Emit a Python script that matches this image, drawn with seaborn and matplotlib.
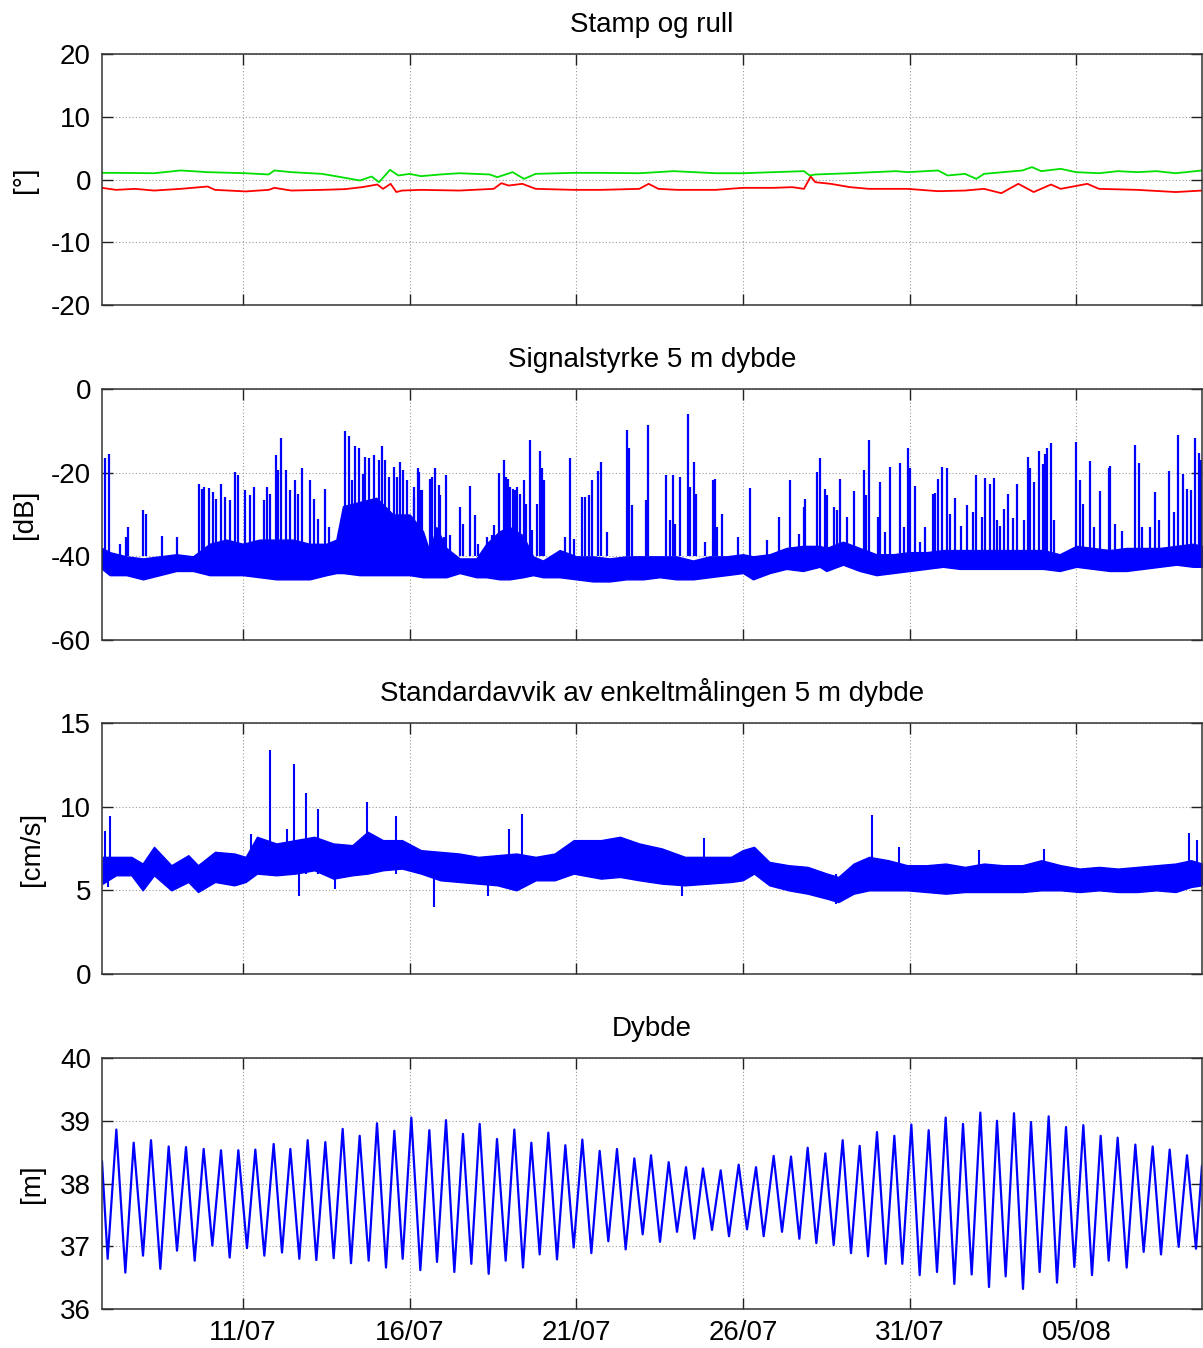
import numpy as np
import pandas as pd
import matplotlib
matplotlib.use("Agg")
import matplotlib.pyplot as plt
import seaborn as sns

# ---------------- data (time in days since 01/07 00:00) ----------------
START = pd.Timestamp("2011-07-01")
x_start, x_end = 5.77, 38.77
tick_days = [10, 15, 20, 25, 30, 35]
tick_labels = ["11/07", "16/07", "21/07", "26/07", "31/07", "05/08"]

# Panel 1: pitch (green) and roll (red), degrees
pitch_day = [5.77, 6.19, 7.33, 8.13, 8.94, 10.08, 10.77, 10.94, 11.45, 12.37,
             12.83, 13.51, 13.86, 14.08, 14.41, 14.66, 15.00, 15.34, 15.92, 16.49,
             17.40, 17.63, 18.09, 18.43, 18.78, 19.92, 20.74, 21.89, 22.92, 24.18,
             25.00, 25.91, 26.83, 27.00, 27.17, 28.21, 29.59, 29.93, 30.85, 31.14,
             31.66, 32.00, 32.23, 33.38, 33.67, 33.95, 34.53, 34.99, 35.68, 36.25,
             36.83, 37.40, 37.98, 38.77]
pitch_deg = [1.06, 1.06, 1.0, 1.44, 1.17, 1.0, 0.8, 1.44, 1.17, 0.9,
             0.48, -0.16, 0.48, -0.43, 1.54, 0.64, 0.9, 0.53, 0.8, 1.0,
             0.8, 0.37, 1.17, 0.1, 0.9, 1.06, 1.06, 1.0, 1.33, 1.0,
             1.0, 1.17, 1.33, 0.64, 0.8, 1.0, 1.33, 1.17, 1.44, 0.64,
             0.9, 0.1, 0.9, 1.44, 1.97, 1.33, 1.7, 1.17, 1.0, 1.33,
             1.17, 1.33, 1.0, 1.44]
roll_day = [5.77, 6.19, 6.76, 7.33, 8.13, 8.94, 9.16, 10.08, 10.77, 10.94,
            11.45, 12.37, 13.05, 13.57, 14.03, 14.20, 14.43, 14.60, 14.77, 15.34,
            16.49, 17.52, 17.75, 17.97, 18.38, 18.78, 19.92, 20.74, 21.89, 22.17,
            22.46, 23.03, 24.18, 25.00, 25.91, 26.48, 26.83, 27.03, 27.17, 27.63,
            28.21, 28.78, 29.93, 30.85, 31.66, 32.23, 32.75, 33.26, 33.72, 34.24,
            34.53, 35.33, 35.68, 36.83, 37.98, 38.77]
roll_deg = [-1.33, -1.65, -1.49, -1.76, -1.49, -1.12, -1.65, -1.9, -1.65, -1.33,
            -1.76, -1.65, -1.54, -1.22, -0.8, -1.49, -0.69, -2.0, -1.76, -1.65,
            -1.76, -1.49, -0.59, -0.96, -0.69, -1.49, -1.65, -1.65, -1.49, -0.69,
            -1.49, -1.65, -1.65, -1.33, -1.33, -1.22, -1.49, 0.48, -0.43, -0.69,
            -1.22, -1.49, -1.49, -1.86, -1.76, -1.49, -2.18, -0.69, -2.0, -0.8,
            -1.49, -0.69, -1.49, -1.65, -2.0, -1.76]

# Panel 2: signal strength, band of the noise (low/high) and spikes (dB)
sig_day = [5.77, 6.0, 6.5, 7.0, 7.5, 8.0, 8.5, 9.0, 9.5, 10.0, 10.5, 11.0, 11.5, 12.0,
           12.5, 12.8, 13.0, 13.5, 14.0, 14.5, 15.0, 15.4, 15.6, 15.8, 16.1, 16.5,
           17.0, 17.3, 17.7, 18.0, 18.4, 18.7, 19.0, 19.5, 20.0, 20.5, 21.0, 21.5,
           22.0, 22.5, 23.0, 23.5, 24.0, 24.5, 25.0, 25.3, 25.8, 26.3, 26.8, 27.3,
           27.5, 28.0, 28.5, 29.0, 29.5, 30.0, 30.5, 31.0, 31.5, 32.0, 32.5, 33.0,
           33.5, 34.0, 34.5, 35.0, 35.5, 36.0, 36.5, 37.0, 37.5, 38.0, 38.5, 38.77]
sig_low = [-43, -44.5, -44.5, -45.5, -44.5, -43.5, -43.5, -44.5, -44.5, -44.5, -45, -45.5,
           -45.5, -45.5, -44.5, -44, -44, -44.5, -44.5, -44.5, -44.5, -45, -45, -45, -45,
           -44, -45, -45, -45.5, -45.5, -45, -44.5, -45, -45, -45.5, -46, -46, -45.5,
           -45.5, -45, -45.5, -45.5, -45, -44.5, -44, -45.5, -44, -43, -43.5, -42.5,
           -43.5, -42, -43.5, -44.5, -44, -43.5, -43, -42.5, -43, -43, -43, -43,
           -43, -43, -43.5, -42.5, -43, -43.5, -43.5, -43, -42.5, -42, -42.5, -42.5]
sig_high = [-38, -39, -40, -40.5, -40, -39.5, -40, -37, -36, -37, -36, -36,
            -36, -37, -37, -36, -28, -27, -26, -30, -30, -34, -39, -33, -38,
            -40.5, -40.5, -37, -34, -33, -35, -40, -41, -38.5, -40, -40, -40.5, -40,
            -40, -40, -40, -41, -40, -40, -39.5, -40, -39.5, -38, -37.5, -37.5,
            -38, -36.5, -38, -39.5, -39.5, -39, -39, -38.5, -38.5, -38.5, -38.5, -38.5,
            -38.5, -38.5, -39.5, -37.5, -38, -38.5, -38, -38, -38, -37.5, -37, -37.5]
spike_day = [5.85, 5.97, 6.32, 6.50, 6.54, 7.00, 7.10, 7.57, 8.02, 8.67, 8.77, 8.84,
             8.97, 9.10, 9.20, 9.34, 9.47, 9.62, 9.75, 9.85, 10.07, 10.20, 10.32, 10.62,
             10.72, 10.80, 10.98, 11.04, 11.14, 11.30, 11.42, 11.57, 11.65, 11.77, 12.02,
             12.12, 12.24, 12.47, 12.57, 13.07, 13.17, 13.27, 13.37, 13.47, 13.60, 13.67,
             13.77, 13.92, 14.07, 14.17, 14.27, 14.37, 14.52, 14.62, 14.72, 14.80, 14.92,
             15.04, 15.14, 15.27, 15.37, 15.12, 15.25, 15.32, 15.60, 15.67, 15.75, 15.87,
             15.92, 16.02, 16.10, 16.22, 16.50, 16.60, 16.80, 16.97, 17.04, 17.32, 17.47,
             17.54, 17.69, 17.82, 17.90, 17.95, 18.02, 18.09, 18.17, 18.22, 18.32, 18.42,
             18.50, 18.60, 18.67, 18.82, 18.90, 18.97, 19.04, 19.67, 19.82, 19.92, 20.17,
             20.27, 20.37, 20.47, 20.65, 20.74, 20.92, 21.52, 21.58, 21.67, 22.09, 22.14,
             22.69, 22.80, 22.89, 22.95, 23.10, 23.36, 23.42, 23.53, 23.60, 23.87, 24.10,
             24.15, 24.22, 24.37, 24.84, 25.20, 25.72, 26.07, 26.42, 26.67, 26.82, 26.87,
             27.22, 27.30, 27.45, 27.52, 27.72, 27.82, 27.92, 28.12, 28.34, 28.62, 28.69,
             28.77, 29.04, 29.12, 29.27, 29.40, 29.72, 29.82, 29.94, 30.02, 30.17, 30.32,
             30.47, 30.69, 30.77, 30.84, 30.97, 31.12, 31.22, 31.37, 31.55, 31.72, 31.90,
             32.00, 32.17, 32.27, 32.42, 32.52, 32.62, 32.70, 32.84, 32.94, 33.09, 33.22,
             33.42, 33.55, 33.60, 33.72, 33.87, 33.99, 34.05, 34.12, 34.25, 34.32, 35.00,
             35.12, 35.20, 35.40, 35.52, 35.70, 35.97, 36.02, 36.17, 36.38, 36.75, 36.89,
             36.97, 37.22, 37.37, 37.47, 37.77, 37.92, 38.05, 38.19, 38.32, 38.44, 38.57,
             38.67, 38.75]
spike_db = [-16.4, -15.6, -37.0, -35.4, -33.0, -28.9, -29.8, -35.2, -35.4, -22.8, -23.8, -23.4,
            -23.6, -24.6, -26.2, -22.6, -25.8, -26.6, -19.8, -20.6, -24.2, -25.3, -23.4, -26.6,
            -23.4, -25.0, -15.8, -19.4, -11.7, -19.4, -24.2, -21.8, -25.0, -19.0, -21.8,
            -26.2, -31.0, -23.8, -33.0, -10.0, -11.3, -21.8, -13.6, -14.1, -20.2, -16.2,
            -16.4, -15.8, -17.0, -13.6, -16.9, -21.0, -18.6, -21.0, -17.4, -19.4, -21.8,
            -31.8, -23.4, -19.8, -24.2, -25.8, -19.0, -24.2, -21.6, -21.0, -18.9, -23.0,
            -25.4, -35.4, -20.5, -35.0, -28.2, -32.2, -23.3, -30.2, -37.0, -35.4, -35.0,
            -32.4, -20.0, -16.9, -21.0, -21.4, -23.4, -23.8, -24.2, -23.4, -25.0, -21.8,
            -27.4, -12.1, -33.8, -27.4, -14.9, -18.8, -21.7, -35.4, -16.5, -35.8, -25.7,
            -25.7, -25.4, -21.8, -19.7, -17.4, -34.2, -9.8, -14.2, -27.8, -26.6, -8.5,
            -20.5, -31.4, -20.6, -32.2, -21.0, -6.0, -23.4, -17.4, -25.0, -36.6, -21.8,
            -21.6, -33.0, -29.8, -35.4, -23.6, -36.2, -30.6, -21.8, -34.6, -28.2, -26.2,
            -19.8, -16.4, -23.8, -25.4, -28.1, -29.0, -21.4, -30.6, -24.4, -19.4, -25.4,
            -12.2, -30.6, -22.2, -34.2, -18.6, -17.8, -33.0, -14.2, -19.0, -23.3, -36.6,
            -33.0, -25.0, -24.9, -21.4, -18.6, -18.8, -29.8, -26.0, -32.8, -27.8, -29.3,
            -20.6, -30.6, -21.2, -22.6, -21.2, -31.4, -32.7, -28.6, -25.0, -30.8, -22.8,
            -31.4, -16.2, -19.0, -22.2, -14.9, -18.0, -15.6, -14.2, -13.0, -31.4, -12.6,
            -21.8, -27.4, -17.2, -33.0, -24.5, -19.0, -18.5, -32.2, -34.0, -13.5, -17.7,
            -33.0, -33.0, -24.6, -31.4, -19.7, -29.4, -10.9, -20.2, -23.8, -24.2, -11.7,
            -15.4, -17.0]

# Panel 3: standard deviation, noise band and spikes (cm/s)
std_day = [5.79, 6.19, 6.65, 6.99, 7.33, 7.85, 8.36, 8.65, 9.16, 9.74, 10.08, 10.42,
           11.00, 11.57, 12.14, 12.71, 13.28, 13.74, 14.20, 14.77, 15.34, 15.92, 16.49,
           17.06, 17.63, 18.20, 18.78, 19.35, 19.92, 20.74, 21.31, 21.89, 22.57, 23.26,
           23.95, 24.64, 24.99, 25.33, 25.79, 26.37, 26.94, 27.52, 27.86, 28.32, 28.78,
           29.36, 29.93, 30.51, 31.08, 31.66, 32.23, 32.80, 33.38, 33.95, 34.53, 35.10,
           35.68, 36.25, 36.83, 37.40, 37.98, 38.44, 38.77]
std_low = [5.4, 5.9, 5.9, 5.0, 5.9, 5.0, 5.5, 4.9, 5.5, 5.3, 5.5, 6.0,
           5.9, 6.0, 6.2, 5.7, 5.9, 6.0, 6.2, 6.3, 6.0, 5.6, 5.5,
           5.4, 5.3, 5.0, 5.6, 5.6, 6.0, 5.7, 5.8, 5.6, 5.4, 5.3,
           5.4, 5.5, 5.6, 6.0, 5.3, 5.0, 4.8, 4.5, 4.3, 4.8, 5.0,
           5.0, 5.0, 4.9, 4.8, 4.9, 4.9, 4.9, 4.9, 5.0, 5.0, 4.9,
           5.0, 4.9, 4.9, 5.0, 4.9, 5.2, 5.3]
std_high = [7.0, 7.0, 7.0, 6.6, 7.6, 6.5, 7.1, 6.5, 7.3, 7.2, 7.0, 8.2,
            7.8, 8.0, 8.2, 7.8, 7.7, 8.5, 8.0, 8.0, 7.4, 7.3, 7.2,
            7.0, 7.1, 7.2, 7.0, 7.2, 8.0, 8.0, 8.2, 7.8, 7.5, 7.0,
            7.0, 7.0, 7.4, 7.6, 6.7, 6.5, 6.4, 6.0, 5.8, 6.6, 7.0,
            6.8, 6.5, 6.5, 6.6, 6.4, 6.6, 6.5, 6.5, 6.8, 6.5, 6.3,
            6.4, 6.3, 6.4, 6.5, 6.6, 6.8, 6.6]
std_spike_day = [5.87, 6.00, 5.94, 10.25, 10.82, 11.32, 11.53, 11.68, 11.88, 12.25, 12.75,
                 13.71, 14.60, 15.74, 17.35, 17.97, 18.38, 23.18, 23.84, 27.80, 28.87,
                 29.67, 32.09, 34.03, 38.38, 38.63]
std_spike_val = [8.55, 9.44, 5.17, 8.35, 13.4, 8.65, 12.56, 4.67, 10.83, 9.84, 5.07,
                 10.28, 9.44, 3.98, 4.67, 8.65, 9.54, 4.67, 8.1, 4.2, 9.5,
                 7.6, 7.4, 7.5, 8.45, 8.0]

# Panel 4: depth, tidal highs and lows (m)
high_day = [6.20, 6.72, 7.24, 7.77, 8.29, 8.82, 9.34, 9.86, 10.37, 10.92, 11.42, 11.94,
            12.47, 12.99, 13.50, 14.02, 14.54, 15.05, 15.59, 16.09, 16.60, 17.10, 17.62,
            18.14, 18.65, 19.16, 19.67, 20.18, 20.70, 21.22, 21.74, 22.24, 22.77, 23.29,
            23.80, 24.33, 24.87, 25.39, 25.92, 26.44, 26.94, 27.47, 27.99, 28.50, 29.02,
            29.54, 30.05, 30.57, 31.08, 31.60, 32.12, 32.62, 33.13, 33.64, 34.17, 34.69,
            35.21, 35.73, 36.24, 36.77, 37.29, 37.80, 38.32]
high_m = [38.86, 38.65, 38.69, 38.59, 38.58, 38.55, 38.53, 38.53, 38.54, 38.63, 38.55, 38.69,
          38.66, 38.87, 38.76, 38.96, 38.84, 39.05, 38.85, 39.01, 38.79, 38.95, 38.71,
          38.86, 38.65, 38.81, 38.61, 38.70, 38.52, 38.55, 38.40, 38.45, 38.34, 38.26,
          38.24, 38.21, 38.30, 38.26, 38.44, 38.43, 38.57, 38.48, 38.69, 38.60, 38.82,
          38.76, 38.94, 38.85, 39.05, 38.95, 39.13, 39.00, 39.12, 38.98, 39.07, 38.90,
          38.93, 38.76, 38.73, 38.62, 38.59, 38.54, 38.45]
low_day = [5.94, 6.47, 7.00, 7.52, 8.02, 8.55, 9.08, 9.60, 10.12, 10.64, 11.17, 11.69,
           12.20, 12.72, 13.24, 13.77, 14.29, 14.79, 15.32, 15.82, 16.34, 16.85, 17.37,
           17.88, 18.40, 18.90, 19.42, 19.92, 20.45, 20.96, 21.48, 21.99, 22.51, 23.02,
           23.54, 24.07, 24.58, 25.12, 25.62, 26.17, 26.69, 27.20, 27.72, 28.24, 28.75,
           29.28, 29.78, 30.30, 30.82, 31.34, 31.86, 32.38, 32.88, 33.40, 33.90, 34.42,
           34.94, 35.47, 35.97, 36.51, 37.02, 37.54, 38.07, 38.59]
low_m = [36.80, 36.58, 36.85, 36.64, 36.93, 36.77, 37.01, 36.82, 36.97, 36.85, 36.90, 36.80,
         36.78, 36.81, 36.73, 36.77, 36.66, 36.80, 36.62, 36.75, 36.59, 36.72, 36.56,
         36.77, 36.66, 36.87, 36.79, 36.98, 36.89, 37.08, 36.95, 37.19, 37.07, 37.23,
         37.12, 37.26, 37.16, 37.27, 37.16, 37.23, 37.12, 37.05, 37.02, 36.89, 36.84,
         36.72, 36.72, 36.54, 36.59, 36.40, 36.55, 36.35, 36.52, 36.32, 36.59, 36.42,
         36.67, 36.54, 36.77, 36.66, 36.91, 36.87, 36.99, 36.96]
end_day = [5.77, 38.77]
end_m = [38.36, 38.29]

titles = ["Stamp og rull", "Signalstyrke 5 m dybde",
          "Standardavvik av enkeltmålingen 5 m dybde", "Dybde"]
ylabels = ["[°]", "[dB]", "[cm/s]", "[m]"]
yticks = [[-20, -10, 0, 10, 20], [-60, -40, -20, 0], [0, 5, 10, 15], [36, 37, 38, 39, 40]]


def to_time(days):
    return START + pd.to_timedelta(np.asarray(days, dtype=float), unit="D")


# ---------------- style ----------------
sns.set_theme(style="white")
plt.rcParams["font.family"] = ["Liberation Sans", "DejaVu Sans"]
plt.rcParams.update({
    "font.size": 20,
    "axes.titlesize": 20,
    "axes.labelsize": 20,
    "xtick.labelsize": 20,
    "ytick.labelsize": 20,
    "text.color": "black",
    "axes.labelcolor": "black",
    "xtick.color": "black",
    "ytick.color": "black",
    "axes.unicode_minus": False,
})

W, H = 1203, 1348
fig = plt.figure(figsize=(W / 100, H / 100), dpi=100)
panels = [(54, 305), (389, 640), (723, 974), (1058, 1309)]
axes = []
for top, bottom in panels:
    axes.append(fig.add_axes([102 / W, 1 - bottom / H, 1100 / W, (bottom - top) / H]))

BLUE = "#0000ff"

# Panel 1
ax = axes[0]
sns.lineplot(x=to_time(roll_day), y=roll_deg, color="#ff0000", lw=1.3, ax=ax)
sns.lineplot(x=to_time(pitch_day), y=pitch_deg, color="#00e000", lw=1.3, ax=ax)

# Panel 2
ax = axes[1]
ax.fill_between(to_time(sig_day), sig_low, sig_high, color=BLUE, lw=1.0, edgecolor=BLUE)
ax.vlines(to_time(spike_day), -40, spike_db, color=BLUE, lw=1.6)

# Panel 3
ax = axes[2]
ax.fill_between(to_time(std_day), std_low, std_high, color=BLUE, lw=1.0, edgecolor=BLUE)
ax.vlines(to_time(std_spike_day), 6.0, std_spike_val, color=BLUE, lw=1.5)

# Panel 4
ax = axes[3]
tide = pd.DataFrame({"day": high_day + low_day + end_day,
                     "depth": high_m + low_m + end_m}).sort_values("day")
sns.lineplot(x=to_time(tide["day"]), y=tide["depth"].values, color=BLUE, lw=1.6, ax=ax)

for i, ax in enumerate(axes):
    ax.set_xlim(to_time([x_start])[0], to_time([x_end])[0])
    ax.set_ylim(yticks[i][0], yticks[i][-1])
    ax.set_yticks(yticks[i])
    ax.set_xticks(to_time(tick_days))
    if i == 3:
        ax.set_xticklabels(tick_labels)
    else:
        ax.set_xticklabels([])
    ax.set_title(titles[i], pad=16, color="black")
    ax.set_ylabel(ylabels[i])
    ax.set_xlabel("")
    ax.grid(True, which="major", linestyle=(0, (1, 2)), color="#9a9a9a", lw=0.8)
    ax.set_axisbelow(True)
    ax.tick_params(direction="in", length=8, width=1.0, color="#222222",
                   top=True, right=True, bottom=True, left=True,
                   labelcolor="black", pad=8)
    for s in ax.spines.values():
        s.set_color("#333333")
        s.set_linewidth(1.1)
    ax.set_facecolor("white")

axes[0].yaxis.set_label_coords(-0.058, 0.5)
axes[1].yaxis.set_label_coords(-0.058, 0.5)
axes[2].yaxis.set_label_coords(-0.052, 0.5)
axes[3].yaxis.set_label_coords(-0.052, 0.5)

fig.savefig("out.png", dpi=100, facecolor="white")
